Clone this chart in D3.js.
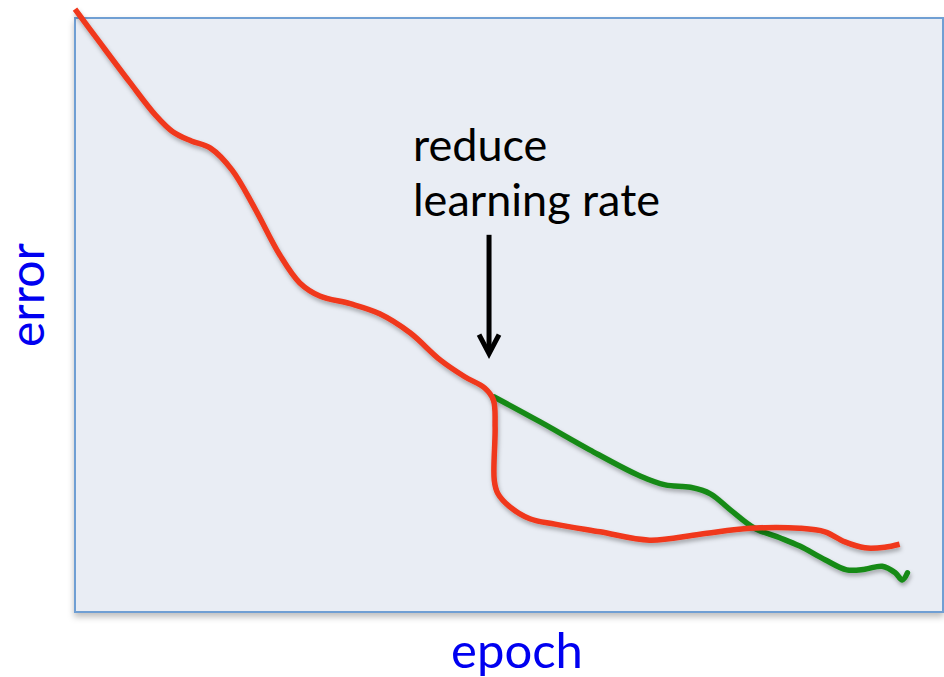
<html>
<head>
<script src="https://cdn.jsdelivr.net/npm/d3@7"></script>
</head>
<body style="margin:0; padding:0; background:#fff;">
<script>
// red: error with the learning rate reduced at the arrow
var redEpoch = [0, 2.9, 6.3, 9.3, 11.3, 13.4, 15.6, 18.1, 20.7, 23.6, 25.9, 28.2, 31.7, 35.1, 38.6, 42.1, 44.9, 47.2, 48.2, 48.4, 48.3, 48.7, 50.1, 52.4, 55.3, 60.5, 66.2, 72.0, 77.8, 83.5, 86.4, 88.7, 91.0, 93.3, 95.0];
var redError = [101.5, 95.8, 89.2, 83.6, 80.8, 79.3, 78.1, 74.4, 68.0, 60.1, 55.4, 53.2, 51.9, 50.2, 47.0, 42.4, 39.6, 37.7, 35.7, 31.1, 22.2, 20.0, 17.7, 15.7, 14.8, 13.5, 12.1, 13.1, 14.1, 14.1, 13.5, 11.8, 10.8, 10.9, 11.4];
// green: error if the learning rate is kept
var greenEpoch = [48.3, 53.6, 59.3, 65.1, 68.0, 70.9, 73.2, 75.5, 78.3, 81.2, 83.5, 86.4, 88.9, 91.0, 93.0, 94.5, 95.3, 95.9];
var greenError = [36.2, 32.0, 27.3, 22.9, 21.4, 21.0, 19.9, 17.2, 14.1, 12.5, 11.1, 8.8, 7.1, 7.2, 7.7, 6.6, 5.4, 6.6];

var xLabel = "epoch";
var yLabel = "error";
var noteLines = ["reduce", "learning rate"];
var arrowEpoch = 47.7;
var arrowFrom = 63.5, arrowTo = 43.5;

var width = 944, height = 677;
var padLeft = 75, padTop = 18, plotW = 868, plotH = 594;

var svg = d3.select("body").append("svg")
  .attr("width", width)
  .attr("height", height);

var defs = svg.append("defs");
var sh = defs.append("filter").attr("id", "shadow")
  .attr("x", "-10%").attr("y", "-10%").attr("width", "120%").attr("height", "130%");
sh.append("feDropShadow").attr("dx", 1).attr("dy", 3).attr("stdDeviation", 2)
  .attr("flood-color", "#000").attr("flood-opacity", 0.3);
var fsh = defs.append("filter").attr("id", "frameShadow")
  .attr("x", "-5%").attr("y", "-5%").attr("width", "110%").attr("height", "112%");
fsh.append("feDropShadow").attr("dx", 0).attr("dy", 4).attr("stdDeviation", 3)
  .attr("flood-color", "#000").attr("flood-opacity", 0.25);

var x = d3.scaleLinear().domain([0, 100]).range([padLeft, padLeft + plotW]);
var y = d3.scaleLinear().domain([0, 100]).range([padTop + plotH, padTop]);

// plot frame
svg.append("rect")
  .attr("x", x(0)).attr("y", y(100))
  .attr("width", x(100) - x(0)).attr("height", y(0) - y(100))
  .attr("fill", "#e9edf4")
  .attr("stroke", "#6f9fd3")
  .attr("stroke-width", 2)
  .attr("filter", "url(#frameShadow)");

var line = d3.line()
  .x(function(d) { return x(d[0]); })
  .y(function(d) { return y(d[1]); })
  .curve(d3.curveCatmullRom.alpha(0.5));

svg.append("path")
  .datum(d3.zip(greenEpoch, greenError))
  .attr("d", line)
  .attr("fill", "none")
  .attr("stroke", "#168a17")
  .attr("stroke-width", 5.5)
  .attr("stroke-linecap", "round")
  .attr("filter", "url(#shadow)");

svg.append("path")
  .datum(d3.zip(redEpoch, redError))
  .attr("d", line)
  .attr("fill", "none")
  .attr("stroke", "#f0371b")
  .attr("stroke-width", 5.5)
  .attr("filter", "url(#shadow)");

// annotation
var note = svg.append("text")
  .attr("x", 413).attr("y", 161)
  .style("font-family", "Lato, 'Open Sans', sans-serif")
  .style("font-size", "45px")
  .attr("fill", "#000");
note.selectAll("tspan").data(noteLines).enter().append("tspan")
  .attr("x", 413)
  .attr("dy", function(d, i) { return i ? 55 : 0; })
  .text(function(d) { return d; });

var ax = x(arrowEpoch);
svg.append("line")
  .attr("x1", ax).attr("x2", ax)
  .attr("y1", y(arrowFrom)).attr("y2", y(arrowTo) - 2)
  .attr("stroke", "#000").attr("stroke-width", 5);
svg.append("path")
  .attr("d", "M" + (ax - 10) + "," + (y(arrowTo) - 19) + "L" + ax + "," + y(arrowTo) + "L" + (ax + 10) + "," + (y(arrowTo) - 19))
  .attr("fill", "none").attr("stroke", "#000").attr("stroke-width", 5)
  .attr("stroke-linejoin", "miter");

// axis titles
svg.append("text")
  .attr("x", 517).attr("y", 668)
  .attr("text-anchor", "middle")
  .style("font-family", "Lato, 'Open Sans', sans-serif")
  .style("font-size", "49px")
  .attr("fill", "#0000f0")
  .text(xLabel);

svg.append("text")
  .attr("transform", "translate(44,295) rotate(-90)")
  .attr("text-anchor", "middle")
  .style("font-family", "Lato, 'Open Sans', sans-serif")
  .style("font-size", "48px")
  .attr("fill", "#0000f0")
  .text(yLabel);
</script>
</body>
</html>
